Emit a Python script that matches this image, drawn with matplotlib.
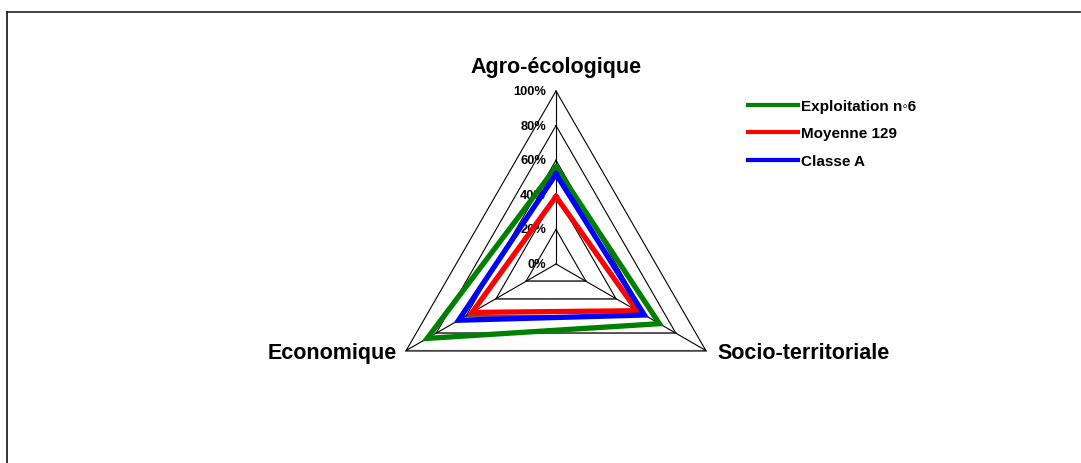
import numpy as np
import matplotlib
matplotlib.use("Agg")
import matplotlib.pyplot as plt
from matplotlib.lines import Line2D

plt.rcParams['font.family'] = ['Liberation Sans', 'DejaVu Sans']

categories = ["Agro-écologique", "Socio-territoriale", "Economique"]
series_names = ["Exploitation n◦6", "Moyenne 129", "Classe A"]
exploitation = [0.56, 0.69, 0.86]
moyenne = [0.39, 0.54, 0.56]
classe_a = [0.52, 0.59, 0.65]
tick_values = [0.0, 0.2, 0.4, 0.6, 0.8, 1.0]
tick_labels = ["0%", "20%", "40%", "60%", "80%", "100%"]

colors = ["#008000", "#FF0000", "#0000FF"]
angles = np.deg2rad([90, -30, 210])

W, H = 1081, 464
cx, cy, R = 556, 265, 173

fig = plt.figure(figsize=(W / 100, H / 100), dpi=100)
ax = fig.add_axes([0, 0, 1, 1])
ax.set_xlim(-cx / R, (W - cx) / R)
ax.set_ylim(-(H - cy) / R, cy / R)
ax.axis('off')


def xy(vals):
    v = np.asarray(vals, dtype=float)
    x = v * np.cos(angles)
    y = v * np.sin(angles)
    return np.append(x, x[0]), np.append(y, y[0])


# grid triangles
for t in tick_values[1:]:
    gx, gy = xy([t] * 3)
    ax.plot(gx, gy, color='black', lw=0.8, zorder=1)
    ax.plot(gx[1:3], gy[1:3], color='#555555', lw=1.2, zorder=1)
# spokes
for a in angles:
    ax.plot([0, np.cos(a)], [0, np.sin(a)], color='black', lw=0.8, zorder=1)

# tick labels
for t, lab in zip(tick_values, tick_labels):
    ax.text(-10 / R, t, lab, ha='right', va='center', fontsize=9.3,
            fontweight='bold', zorder=2)

# series
for vals, name, c in zip([exploitation, moyenne, classe_a], series_names, colors):
    sx, sy = xy(vals)
    ax.plot(sx, sy, color=c, lw=3.8, solid_joinstyle='miter', label=name, zorder=3)

# category labels
ax.text(0, (cy - 68) / R, categories[0], ha='center', va='center',
        fontsize=15.5, fontweight='bold')
ax.text((717 - cx) / R, -(354 - cy) / R, categories[1], ha='left', va='center',
        fontsize=15.5, fontweight='bold')
ax.text((397 - cx) / R, -(354 - cy) / R, categories[2], ha='right', va='center',
        fontsize=15.5, fontweight='bold')

leg = ax.legend(loc='upper left', bbox_to_anchor=(748 / W, 1 - 100 / H),
                bbox_transform=fig.transFigure, frameon=False,
                prop={'size': 11, 'weight': 'bold'}, handlelength=3.3,
                handletextpad=0.15, labelspacing=0.88, borderpad=0,
                borderaxespad=0)
for h in leg.get_lines():
    h.set_linewidth(3.0)

# outer border (chart area frame)
fig.add_artist(Line2D([7.5 / W, 1080 / W], [1 - 12.5 / H, 1 - 12.5 / H],
                      transform=fig.transFigure, color='#333333', lw=1.3))
fig.add_artist(Line2D([7.5 / W, 7.5 / W], [1 - 12.5 / H, 0],
                      transform=fig.transFigure, color='#222222', lw=1.3))

fig.savefig("out.png", dpi=100)
